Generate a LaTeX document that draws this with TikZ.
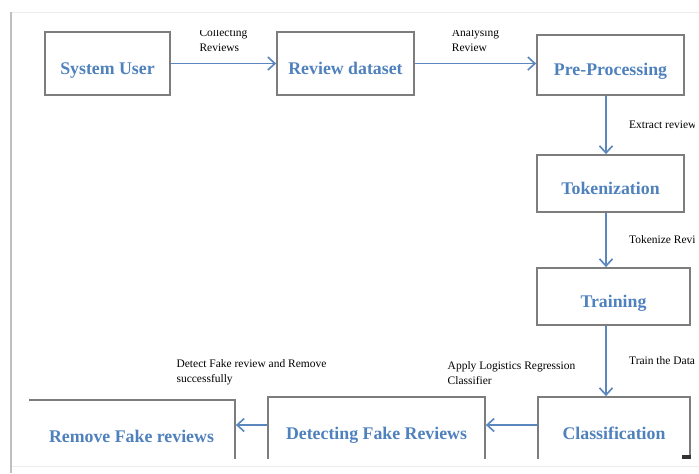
\documentclass[tikz,border=0pt]{standalone}
\usepackage{color}
\usepackage{fontspec}
\setmainfont{Liberation Serif}
\usepackage{tikz}
\usetikzlibrary{shapes,arrows.meta,positioning}
\definecolor{boxgray}{RGB}{125,125,125}
\definecolor{textblue}{RGB}{79,129,189}
\definecolor{arrowblue}{RGB}{90,135,190}
\tikzstyle{block} = [rectangle, draw=boxgray, line width=1.5pt, text=textblue, text height=18pt, text depth=0pt, font=\bfseries\fontsize{15.2}{18}\selectfont]
\tikzstyle{arrow} = [draw=arrowblue, line width=1.5pt, -{Straight Barb[length=6pt,width=11pt,line width=1.4pt]}]
\tikzstyle{lbl} = [inner sep=0pt, align=left, text=black, font=\fontsize{9.8}{12.8}\selectfont]

\begin{document}
\begin{tikzpicture}
    \useasboundingbox (0,0) rectangle (20.97,-14.19);
    % page frame
    \draw[gray!15, line width=0.8pt] (0.33,-0.36) -- (20.97,-0.36);
    \draw[gray!15, line width=0.8pt] (0.33,-13.98) -- (20.97,-13.98);
    \draw[gray!50, line width=1.8pt] (0.33,-0.36) -- (0.33,-14.19);

    \begin{scope}
        \clip (0.87,-0.915) rectangle (20.82,-13.74);
        \coordinate (col) at (18.18,0);
        \coordinate (row) at (0,-12.75);

        \node (user) [block, xshift=3.225cm, yshift=-1.905cm, minimum width=3.75cm, minimum height=1.89cm] {System User};
        \node (dataset) [block, xshift=10.365cm, yshift=-1.905cm, minimum width=4.11cm, minimum height=1.89cm] {Review dataset};
        \node (prep) [block, xshift=18.315cm, yshift=-1.95cm, minimum width=4.41cm, minimum height=1.8cm] {Pre-Processing};
        \node (token) [block, xshift=18.315cm, yshift=-5.505cm, minimum width=4.41cm, minimum height=1.71cm] {Tokenization};
        \node (train) [block, xshift=18.405cm, yshift=-8.895cm, minimum width=4.59cm, minimum height=1.71cm] {Training};
        \node (classif) [block, xshift=18.42cm, yshift=-12.855cm, minimum width=4.56cm, minimum height=1.89cm] {Classification};
        \node (detect) [block, xshift=11.295cm, yshift=-12.855cm, minimum width=6.51cm, minimum height=1.89cm] {Detecting Fake Reviews};
        \node (remove) [block, xshift=3.945cm, yshift=-12.945cm, minimum width=6.21cm, minimum height=1.89cm] {Remove Fake reviews};

        \path [arrow] (user.east) -- node [lbl, midway, above=9pt] {Collecting\\Reviews} (dataset.west);
        \path [arrow] (dataset.east) -- node [lbl, midway, above=9pt] {Analysing\\Review} (dataset.east -| prep.west);
        \path [arrow] (prep.south -| col) -- node [lbl, midway, right=19pt] {Extract reviews} (token.north -| col);
        \path [arrow] (token.south -| col) -- node [lbl, midway, right=19pt] {Tokenize Reviews} (train.north -| col);
        \path [arrow] (train.south -| col) -- node [lbl, midway, right=19pt] {Train the Data} (classif.north -| col);
        \path [arrow] (classif.west |- row) -- node [lbl, midway, above=34pt] {Apply Logistics Regression\\Classifier} (detect.east |- row);
        \path [arrow] (detect.west |- row) -- node [lbl, midway, above=33pt] {Detect Fake review and Remove\\successfully} (remove.east |- row);
    \end{scope}

    \fill[black!80] (20.46,-13.65) rectangle (20.73,-13.77);
\end{tikzpicture}
\end{document}
